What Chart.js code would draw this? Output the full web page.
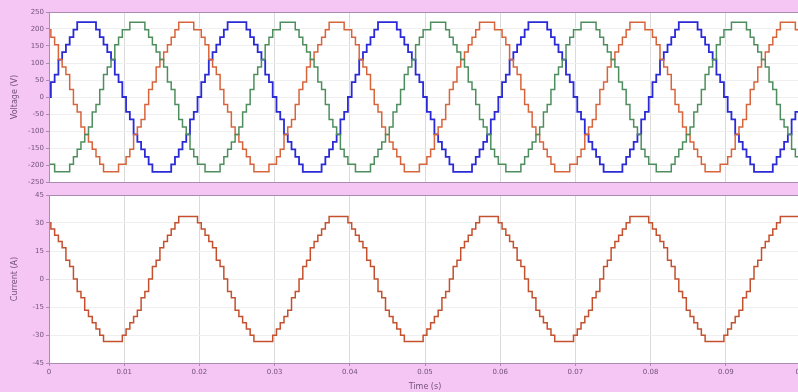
<!DOCTYPE html>
<html lang="en">
<head>
<meta charset="UTF-8">
<title>Voltage and current waveforms</title>
<script src="https://cdn.jsdelivr.net/npm/chart.js"></script>
<style>
  html, body { margin: 0; padding: 0; overflow: hidden; background: #f5c5f3; }
  #wrap { position: relative; width: 798px; height: 392px; overflow: hidden; }
  canvas { position: absolute; left: 0; }
  #voltageChart { top: 0; }
  #currentChart { top: 190px; }
</style>
</head>
<body>
<div id="wrap">
  <canvas id="voltageChart" width="801" height="190"></canvas>
  <canvas id="currentChart" width="801" height="202"></canvas>
</div>
<script>
// sample times (s)
var time = [
  0,0.0005,0.001,0.0015,0.002,0.0025,0.003,0.0035,0.004,0.0045,0.005,0.0055,0.006,0.0065,0.007,0.0075,0.008,0.0085,0.009,0.0095,
  0.01,0.0105,0.011,0.0115,0.012,0.0125,0.013,0.0135,0.014,0.0145,0.015,0.0155,0.016,0.0165,0.017,0.0175,0.018,0.0185,0.019,0.0195,
  0.02,0.0205,0.021,0.0215,0.022,0.0225,0.023,0.0235,0.024,0.0245,0.025,0.0255,0.026,0.0265,0.027,0.0275,0.028,0.0285,0.029,0.0295,
  0.03,0.0305,0.031,0.0315,0.032,0.0325,0.033,0.0335,0.034,0.0345,0.035,0.0355,0.036,0.0365,0.037,0.0375,0.038,0.0385,0.039,0.0395,
  0.04,0.0405,0.041,0.0415,0.042,0.0425,0.043,0.0435,0.044,0.0445,0.045,0.0455,0.046,0.0465,0.047,0.0475,0.048,0.0485,0.049,0.0495,
  0.05,0.0505,0.051,0.0515,0.052,0.0525,0.053,0.0535,0.054,0.0545,0.055,0.0555,0.056,0.0565,0.057,0.0575,0.058,0.0585,0.059,0.0595,
  0.06,0.0605,0.061,0.0615,0.062,0.0625,0.063,0.0635,0.064,0.0645,0.065,0.0655,0.066,0.0665,0.067,0.0675,0.068,0.0685,0.069,0.0695,
  0.07,0.0705,0.071,0.0715,0.072,0.0725,0.073,0.0735,0.074,0.0745,0.075,0.0755,0.076,0.0765,0.077,0.0775,0.078,0.0785,0.079,0.0795,
  0.08,0.0805,0.081,0.0815,0.082,0.0825,0.083,0.0835,0.084,0.0845,0.085,0.0855,0.086,0.0865,0.087,0.0875,0.088,0.0885,0.089,0.0895,
  0.09,0.0905,0.091,0.0915,0.092,0.0925,0.093,0.0935,0.094,0.0945,0.095,0.0955,0.096,0.0965,0.097,0.0975,0.098,0.0985,0.099,0.0995,
  0.1
];

// phase voltages (V), blue / red / green traces
var phaseA = [
  0,44,66,110,132,154,176,198,220,220,220,220,220,198,176,154,132,110,66,44,
  0,-44,-66,-110,-132,-154,-176,-198,-220,-220,-220,-220,-220,-198,-176,-154,-132,-110,-66,-44,
  0,44,66,110,132,154,176,198,220,220,220,220,220,198,176,154,132,110,66,44,
  0,-44,-66,-110,-132,-154,-176,-198,-220,-220,-220,-220,-220,-198,-176,-154,-132,-110,-66,-44,
  0,44,66,110,132,154,176,198,220,220,220,220,220,198,176,154,132,110,66,44,
  0,-44,-66,-110,-132,-154,-176,-198,-220,-220,-220,-220,-220,-198,-176,-154,-132,-110,-66,-44,
  0,44,66,110,132,154,176,198,220,220,220,220,220,198,176,154,132,110,66,44,
  0,-44,-66,-110,-132,-154,-176,-198,-220,-220,-220,-220,-220,-198,-176,-154,-132,-110,-66,-44,
  0,44,66,110,132,154,176,198,220,220,220,220,220,198,176,154,132,110,66,44,
  0,-44,-66,-110,-132,-154,-176,-198,-220,-220,-220,-220,-220,-198,-176,-154,-132,-110,-66,-44,
  0
];
var phaseB = [
  198,176,154,110,88,66,22,-22,-44,-88,-110,-132,-154,-176,-198,-220,-220,-220,-220,-198,
  -198,-176,-154,-110,-88,-66,-22,22,44,88,110,132,154,176,198,220,220,220,220,198,
  198,176,154,110,88,66,22,-22,-44,-88,-110,-132,-154,-176,-198,-220,-220,-220,-220,-198,
  -198,-176,-154,-110,-88,-66,-22,22,44,88,110,132,154,176,198,220,220,220,220,198,
  198,176,154,110,88,66,22,-22,-44,-88,-110,-132,-154,-176,-198,-220,-220,-220,-220,-198,
  -198,-176,-154,-110,-88,-66,-22,22,44,88,110,132,154,176,198,220,220,220,220,198,
  198,176,154,110,88,66,22,-22,-44,-88,-110,-132,-154,-176,-198,-220,-220,-220,-220,-198,
  -198,-176,-154,-110,-88,-66,-22,22,44,88,110,132,154,176,198,220,220,220,220,198,
  198,176,154,110,88,66,22,-22,-44,-88,-110,-132,-154,-176,-198,-220,-220,-220,-220,-198,
  -198,-176,-154,-110,-88,-66,-22,22,44,88,110,132,154,176,198,220,220,220,220,198,
  198
];
var phaseC = [
  -198,-198,-220,-220,-220,-220,-198,-176,-154,-132,-110,-88,-44,-22,22,66,88,110,154,176,
  198,198,220,220,220,220,198,176,154,132,110,88,44,22,-22,-66,-88,-110,-154,-176,
  -198,-198,-220,-220,-220,-220,-198,-176,-154,-132,-110,-88,-44,-22,22,66,88,110,154,176,
  198,198,220,220,220,220,198,176,154,132,110,88,44,22,-22,-66,-88,-110,-154,-176,
  -198,-198,-220,-220,-220,-220,-198,-176,-154,-132,-110,-88,-44,-22,22,66,88,110,154,176,
  198,198,220,220,220,220,198,176,154,132,110,88,44,22,-22,-66,-88,-110,-154,-176,
  -198,-198,-220,-220,-220,-220,-198,-176,-154,-132,-110,-88,-44,-22,22,66,88,110,154,176,
  198,198,220,220,220,220,198,176,154,132,110,88,44,22,-22,-66,-88,-110,-154,-176,
  -198,-198,-220,-220,-220,-220,-198,-176,-154,-132,-110,-88,-44,-22,22,66,88,110,154,176,
  198,198,220,220,220,220,198,176,154,132,110,88,44,22,-22,-66,-88,-110,-154,-176,
  -198
];

// load current (A)
var current = [
  30.2,26.8,23.5,20.1,16.8,10.1,6.7,0,-6.7,-10.1,-16.8,-20.1,-23.5,-26.8,-30.2,-33.5,-33.5,-33.5,-33.5,-33.5,
  -30.2,-26.8,-23.5,-20.1,-16.8,-10.1,-6.7,0,6.7,10.1,16.8,20.1,23.5,26.8,30.2,33.5,33.5,33.5,33.5,33.5,
  30.2,26.8,23.5,20.1,16.8,10.1,6.7,0,-6.7,-10.1,-16.8,-20.1,-23.5,-26.8,-30.2,-33.5,-33.5,-33.5,-33.5,-33.5,
  -30.2,-26.8,-23.5,-20.1,-16.8,-10.1,-6.7,0,6.7,10.1,16.8,20.1,23.5,26.8,30.2,33.5,33.5,33.5,33.5,33.5,
  30.2,26.8,23.5,20.1,16.8,10.1,6.7,0,-6.7,-10.1,-16.8,-20.1,-23.5,-26.8,-30.2,-33.5,-33.5,-33.5,-33.5,-33.5,
  -30.2,-26.8,-23.5,-20.1,-16.8,-10.1,-6.7,0,6.7,10.1,16.8,20.1,23.5,26.8,30.2,33.5,33.5,33.5,33.5,33.5,
  30.2,26.8,23.5,20.1,16.8,10.1,6.7,0,-6.7,-10.1,-16.8,-20.1,-23.5,-26.8,-30.2,-33.5,-33.5,-33.5,-33.5,-33.5,
  -30.2,-26.8,-23.5,-20.1,-16.8,-10.1,-6.7,0,6.7,10.1,16.8,20.1,23.5,26.8,30.2,33.5,33.5,33.5,33.5,33.5,
  30.2,26.8,23.5,20.1,16.8,10.1,6.7,0,-6.7,-10.1,-16.8,-20.1,-23.5,-26.8,-30.2,-33.5,-33.5,-33.5,-33.5,-33.5,
  -30.2,-26.8,-23.5,-20.1,-16.8,-10.1,-6.7,0,6.7,10.1,16.8,20.1,23.5,26.8,30.2,33.5,33.5,33.5,33.5,33.5,
  30.2
];

// tick values
var timeTicks = [0, 0.01, 0.02, 0.03, 0.04, 0.05, 0.06, 0.07, 0.08, 0.09, 0.1];
var voltageTicks = [-250, -200, -150, -100, -50, 0, 50, 100, 150, 200, 250];
var currentTicks = [-45, -30, -15, 0, 15, 30, 45];

var textColor = '#74537c';
var frameColor = '#a98cb0';
var xGridColor = '#dadada';
var yGridColor = '#efefef';
var tickFont = { family: 'DejaVu Sans', size: 7 };
var titleFont = { family: 'DejaVu Sans', size: 8 };

function points(ys) {
  return time.map(function (t, i) { return { x: t, y: ys[i] }; });
}

// white plot area + full box around it
var plotFrame = {
  id: 'plotFrame',
  beforeDraw: function (chart) {
    var a = chart.chartArea, ctx = chart.ctx;
    ctx.save();
    ctx.fillStyle = '#ffffff';
    ctx.fillRect(a.left, a.top, a.right - a.left, a.bottom - a.top);
    ctx.restore();
  },
  afterDraw: function (chart) {
    var a = chart.chartArea, ctx = chart.ctx;
    ctx.save();
    ctx.strokeStyle = frameColor;
    ctx.lineWidth = 1;
    ctx.strokeRect(a.left + 0.5, a.top + 0.5, a.right - a.left - 1, a.bottom - a.top);
    ctx.restore();
  }
};

function lineSet(ys, color, width) {
  return {
    data: points(ys),
    borderColor: color,
    borderWidth: width,
    pointRadius: 0,
    stepped: 'middle',
    fill: false
  };
}

function yScale(ticks, title) {
  return {
    type: 'linear',
    min: ticks[0],
    max: ticks[ticks.length - 1],
    afterBuildTicks: function (s) { s.ticks = ticks.map(function (v) { return { value: v }; }); },
    afterFit: function (s) { s.width = 49; s.paddingTop = 0; s.paddingBottom = 0; },
    ticks: { color: textColor, font: tickFont, padding: 2 },
    grid: { color: yGridColor, tickColor: frameColor, tickLength: 3 },
    border: { color: frameColor },
    title: { display: true, text: title, color: textColor, font: titleFont, padding: { top: 10, bottom: 0 } }
  };
}

function xScale(showLabels, height) {
  return {
    type: 'linear',
    min: timeTicks[0],
    max: timeTicks[timeTicks.length - 1],
    afterBuildTicks: function (s) { s.ticks = timeTicks.map(function (v) { return { value: v }; }); },
    afterFit: function (s) { s.height = height; s.paddingLeft = 0; s.paddingRight = 0; },
    ticks: {
      display: showLabels,
      color: textColor,
      font: tickFont,
      padding: 2,
      maxRotation: 0,
      callback: function (v) { return String(+v.toFixed(2)); }
    },
    grid: { color: xGridColor, tickColor: frameColor, tickLength: 3, drawTicks: showLabels },
    border: { color: frameColor },
    title: { display: showLabels, text: 'Time (s)', color: textColor, font: titleFont, padding: { top: 3, bottom: 0 } }
  };
}

new Chart(document.getElementById('voltageChart'), {
  type: 'line',
  data: {
    datasets: [
      lineSet(phaseC, '#4e8e5e', 1.5),
      lineSet(phaseB, '#d8643c', 1.5),
      lineSet(phaseA, '#2a2ad6', 1.8)
    ]
  },
  options: {
    responsive: false,
    animation: false,
    layout: { padding: { top: 12, bottom: 8, left: 0, right: 0 } },
    plugins: { legend: { display: false }, tooltip: { enabled: false } },
    scales: { x: xScale(false, 0), y: yScale(voltageTicks, 'Voltage (V)') }
  },
  plugins: [plotFrame]
});

new Chart(document.getElementById('currentChart'), {
  type: 'line',
  data: {
    datasets: [lineSet(current, '#c4502e', 1.5)]
  },
  options: {
    responsive: false,
    animation: false,
    layout: { padding: { top: 5, bottom: 0, left: 0, right: 0 } },
    plugins: { legend: { display: false }, tooltip: { enabled: false } },
    scales: { x: xScale(true, 29), y: yScale(currentTicks, 'Current (A)') }
  },
  plugins: [plotFrame]
});
</script>
</body>
</html>
